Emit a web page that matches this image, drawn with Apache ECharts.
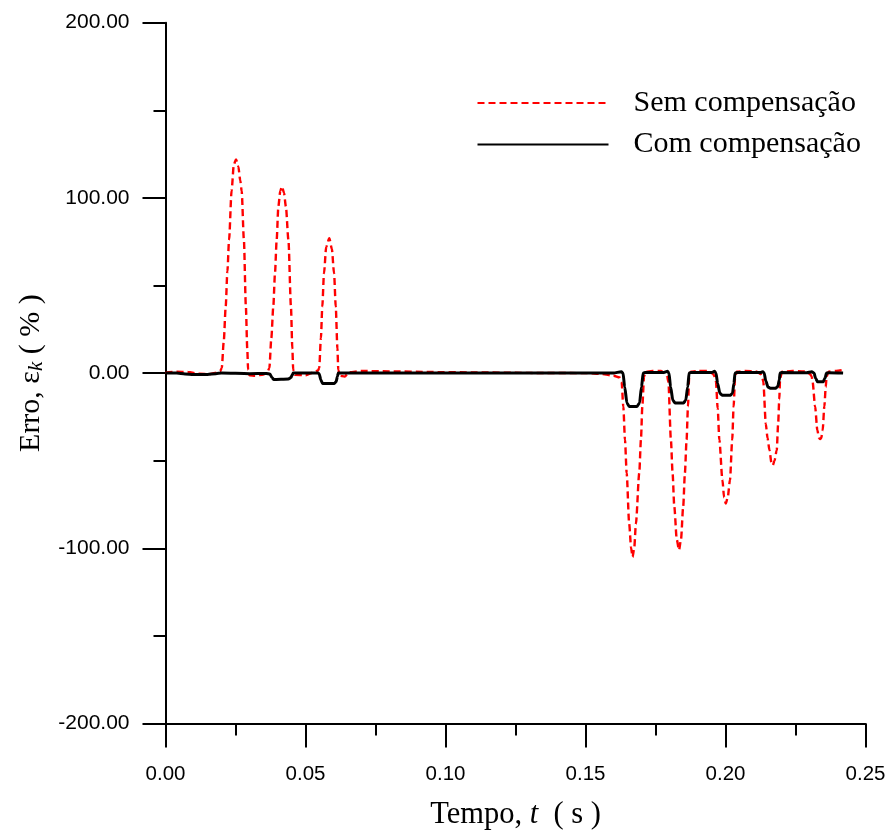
<!DOCTYPE html>
<html>
<head>
<meta charset="utf-8">
<script src="https://cdn.jsdelivr.net/npm/echarts@6/dist/echarts.min.js"></script>
<style>
html,body{margin:0;padding:0;background:#fff;}
#chart{width:891px;height:839px;}
</style>
</head>
<body>
<div id="chart"></div>
<script>
// ---- Data ----
var seriesNames = ['Sem compensação', 'Com compensação'];
var xTicks = [0.00, 0.05, 0.10, 0.15, 0.20, 0.25];
var yTicks = [-200, -100, 0, 100, 200];

// Sem compensação (time s, error %)
var semT = [0.000,0.004,0.008,0.012,0.016,0.0185,0.0195,
  0.0201,0.0208,0.0215,0.0221,0.0227,0.0236,0.0244,0.0252,0.0260,0.0267,0.0272,0.0280,0.0287,0.0292,0.0295,
  0.0300,0.032,0.035,0.0365,
  0.0371,0.0378,0.0385,0.0391,0.0397,0.0403,0.0410,0.0416,0.0423,0.0430,0.0439,0.0448,0.0453,0.0456,
  0.0462,0.050,0.053,0.0545,
  0.0549,0.0555,0.0560,0.0566,0.0574,0.0585,0.0594,0.0602,0.0608,0.0614,0.0617,
  0.0622,0.064,0.0655,0.070,0.080,0.095,0.110,0.130,0.150,0.156,0.160,0.1622,
  0.1629,0.1635,0.1641,0.1647,0.1656,0.1663,0.1668,0.1674,0.1680,0.1692,0.1698,0.1703,0.1709,
  0.1715,0.174,0.177,0.1785,0.1792,
  0.1796,0.1805,0.1811,0.1817,0.1826,0.1834,0.1841,0.1849,0.1855,0.1861,0.1866,0.1870,
  0.1876,0.190,0.194,0.1955,0.1962,
  0.1966,0.1972,0.1978,0.1989,0.1995,0.2001,0.2008,0.2016,0.2024,0.2029,0.2034,
  0.2040,0.207,0.211,0.2125,0.2131,
  0.2135,0.2144,0.2150,0.2157,0.2164,0.2169,0.2175,0.2183,0.2188,0.2192,0.2195,
  0.2202,0.224,0.228,0.2302,0.2308,
  0.2311,0.2320,0.2328,0.2334,0.2338,0.2342,0.2347,0.2353,0.2358,0.2361,
  0.2368,0.2395,0.2420];
var semV = [0.3,0.8,0.6,-0.4,-0.5,0.3,1.0,
  3,18,38,58,76,104,119,122,118,110,104,76,38,14,2,
  -1.2,-1.5,-0.8,1,
  3,20,38,57,76,95,104,106.5,103,95,76,38,14,2,
  -1,-1.2,0.5,1.5,
  3,20,38,57,72,77,71,57,38,14,2,
  -1.5,-2,0.5,1.2,1.0,0.6,0.4,0.1,0,-0.5,-1.5,-2.5,
  -5,-19,-38,-57,-86,-100,-105,-100,-86,-57,-38,-19,-2,
  0.8,1.2,1.2,-0.5,-2,
  -5,-38,-57,-76,-95,-101,-95,-76,-57,-38,-19,-3,
  0.8,1.2,1.2,-0.5,-2,
  -5,-20,-38,-61,-71,-74.5,-71,-61,-38,-19,-3,
  0.8,1.2,1.0,-0.5,-2,
  -5,-29,-37,-44,-51,-52.6,-50,-44,-29,-15,-3,
  0.8,1.2,1.0,-0.5,-2,
  -5,-19,-32.6,-37,-37.7,-37,-32.6,-19,-8,-2,
  0.8,1.2,1.8];

// Com compensação (time s, error %)
var comT = [0.000,0.004,0.007,0.010,0.015,0.018,0.020,0.030,0.036,
  0.0373,0.0380,0.0386,0.0439,0.0448,0.0453,0.0456,
  0.0545,0.0549,0.0555,0.0561,0.0603,0.0609,0.0614,0.0617,
  0.070,0.150,0.160,0.1628,
  0.1634,0.1640,0.1648,0.1656,0.1684,0.1693,0.1700,0.1706,
  0.1712,0.178,0.1793,
  0.1798,0.1804,0.1812,0.1820,0.1850,0.1858,0.1865,0.1870,
  0.1876,0.195,0.1961,
  0.1966,0.1972,0.1980,0.1988,0.2018,0.2025,0.2030,0.2034,
  0.2040,0.2125,0.2133,
  0.2138,0.2144,0.2152,0.2160,0.2180,0.2187,0.2192,0.2195,
  0.2200,0.229,0.2308,
  0.2316,0.2322,0.2329,0.2349,0.2355,0.2361,
  0.2368,0.2420];
var comV = [0,0,-0.5,-0.8,-0.8,-0.3,0,-0.3,-0.2,
  -0.5,-2.5,-3.6,-3.3,-2.5,-1,0,
  0,-0.5,-4,-5.9,-5.9,-5,-2,0,
  0,0,0,0.8,
  0,-8,-17,-19,-19,-17,-8,0,
  0.3,0.3,1.0,
  0,-8,-15.5,-17,-17,-15.5,-8,0,
  0.3,0.3,1.0,
  0,-6,-11.5,-12.6,-12.6,-11.5,-6,0,
  0.3,0.3,0.8,
  0,-4.5,-8,-8.6,-8.6,-7.5,-4,0,
  0.3,0.2,0.8,
  0,-3,-5,-5,-3,0,
  0.2,0];

function pairs(t, v){ return t.map(function(x,i){ return [x, v[i]]; }); }

var chart = echarts.init(document.getElementById('chart'), null, {renderer:'canvas'});
var sansFont = '"Liberation Sans", Arial, sans-serif';
var serifFont = '"Liberation Serif", "Times New Roman", serif';

chart.setOption({
  backgroundColor: '#ffffff',
  animation: false,
  grid: { left: 165.5, top: 22.7, width: 700, height: 700.8, containLabel: false },
  legend: {
    orient: 'vertical',
    left: 471.5,
    top: 83,
    itemWidth: 131,
    itemHeight: 14,
    itemGap: 11.5,
    data: seriesNames,
    itemStyle: { opacity: 0 },
    textStyle: { fontFamily: serifFont, fontSize: 30, color: '#000', padding: [0,0,0,20] }
  },
  xAxis: {
    type: 'value',
    min: xTicks[0],
    max: xTicks[xTicks.length-1],
    interval: 0.05,
    name: 'Tempo, {i|t}  ( s )',
    nameLocation: 'middle',
    nameGap: 76,
    nameTextStyle: {
      fontFamily: serifFont, fontSize: 30.5, color: '#000',
      rich: { i: { fontFamily: serifFont, fontSize: 30.5, fontStyle: 'italic', color: '#000' } }
    },
    axisLine: { show: true, onZero: false, lineStyle: { color: '#000', width: 2 } },
    axisTick: { show: true, inside: false, length: 24, lineStyle: { color: '#000', width: 2 } },
    minorTick: { show: true, splitNumber: 2, length: 12, lineStyle: { color: '#000', width: 2 } },
    splitLine: { show: false },
    axisLabel: {
      margin: 40, fontFamily: sansFont, fontSize: 20.5, color: '#000',
      formatter: function(v){ return v.toFixed(2); }
    }
  },
  yAxis: {
    type: 'value',
    min: yTicks[0],
    max: yTicks[yTicks.length-1],
    interval: 100,
    name: 'Erro, ε{k|k} ( % )',
    nameLocation: 'middle',
    nameRotate: 90,
    nameGap: 117,
    nameTextStyle: {
      fontFamily: serifFont, fontSize: 30, color: '#000',
      rich: { k: { fontFamily: serifFont, fontSize: 21, fontStyle: 'italic', color: '#000', padding: [11,0,0,0] } }
    },
    axisLine: { show: true, onZero: false, lineStyle: { color: '#000', width: 2 } },
    axisTick: { show: true, inside: false, length: 23, lineStyle: { color: '#000', width: 2 } },
    minorTick: { show: true, splitNumber: 2, length: 12, lineStyle: { color: '#000', width: 2 } },
    splitLine: { show: false },
    axisLabel: {
      margin: 36, fontFamily: sansFont, fontSize: 21, color: '#000',
      formatter: function(v){ return v.toFixed(2); }
    }
  },
  series: [
    {
      name: seriesNames[0],
      type: 'line',
      data: pairs(semT, semV),
      showSymbol: false,
      symbol: 'none',
      smooth: 0.25,
      smoothMonotone: 'x',
      lineStyle: { color: '#ff0000', width: 2.4, type: [7,4] },
      itemStyle: { color: '#ff0000' },
      z: 2
    },
    {
      name: seriesNames[1],
      type: 'line',
      data: pairs(comT, comV),
      showSymbol: false,
      symbol: 'none',
      smooth: 0.25,
      smoothMonotone: 'x',
      lineStyle: { color: '#000000', width: 3, type: 'solid' },
      itemStyle: { color: '#000000' },
      z: 3
    }
  ]
});
</script>
</body>
</html>
